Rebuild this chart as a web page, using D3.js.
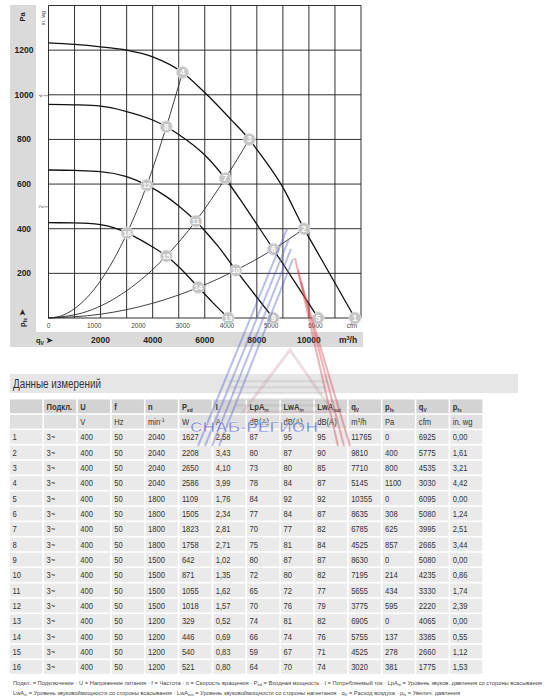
<!DOCTYPE html>
<html><head><meta charset="utf-8">
<script src="https://cdn.jsdelivr.net/npm/d3@7"></script>
<style>
body{margin:0;background:#fff}
svg{display:block}
text{font-family:"Liberation Sans",Arial,sans-serif}
</style>
</head><body>
<svg id="c" width="550" height="700"></svg>
<script>
// ---------- DATA ----------
const pointNo   = [1,2,3,4,5,6,7,8,9,10,11,12,13,14,15,16];
const connect   = ["3~","3~","3~","3~","3~","3~","3~","3~","3~","3~","3~","3~","3~","3~","3~","3~"];
const voltage   = [400,400,400,400,400,400,400,400,400,400,400,400,400,400,400,400];
const freq      = [50,50,50,50,50,50,50,50,50,50,50,50,50,50,50,50];
const speed     = [2040,2040,2040,2040,1800,1800,1800,1800,1500,1500,1500,1500,1200,1200,1200,1200];
const power     = [1627,2208,2650,2586,1109,1505,1823,1758,642,871,1055,1018,329,446,540,521];
const current   = ["2,58","3,43","4,10","3,99","1,76","2,34","2,81","2,71","1,02","1,35","1,62","1,57","0,52","0,69","0,83","0,80"];
const lpaIn     = [87,80,73,78,84,77,70,75,80,72,65,70,74,66,59,64];
const lwaIn     = [95,87,80,84,92,84,77,81,87,80,72,76,81,74,67,70];
const lwaOut    = [95,90,85,87,92,87,82,84,87,82,77,79,82,76,71,74];
const qvM3h     = [11765,9810,7710,5145,10355,8635,6785,4525,8630,7195,5655,3775,6905,5755,4525,3020];
const pfsPa     = [0,400,800,1100,0,308,625,857,0,214,434,595,0,137,278,381];
const qvCfm     = [6925,5775,4535,3030,6095,5080,3995,2665,5080,4235,3330,2220,4065,3385,2660,1775];
const pfsInwg   = ["0,00","1,61","3,21","4,42","0,00","1,24","2,51","3,44","0,00","0,86","1,74","2,39","0,00","0,55","1,12","1,53"];

// fan curves
const rpm2040Qv = [0,1000,2000,3000,4000,5145,6000,7000,7710,8000,9000,9810,10000,11000,11765];
const rpm2040Pa = [1233,1226,1215,1200,1170,1100,1010,890,800,755,585,400,361,157,0];
const rpm1800Qv = [0,1000,2000,3000,4000,4525,5000,6000,6785,7500,8000,8635,9000,9500,10355];
const rpm1800Pa = [957,955,949,925,887,857,822,730,625,507,420,308,243,154,0];
const rpm1500Qv = [0,1000,2000,3000,3775,4500,5000,5655,6000,6500,7195,7500,8000,8630];
const rpm1500Pa = [663,661,656,633,595,546,502,434,391,323,214,168,93,0];
const rpm1200Qv = [0,1000,2000,2500,3020,3500,4000,4525,5000,5755,6300,6905];
const rpm1200Pa = [427,426,418,405,381,352,318,278,230,137,70,0];

// system resistance curves
const sysAQv = [0,500,1000,2000,3020,3775,4525,5145];
const sysAPa = [0,10,42,167,381,595,857,1100];
const sysBQv = [0,1500,3000,4525,5655,6785,7710];
const sysBPa = [0,30,122,278,434,625,800];
const sysCQv = [0,2000,4000,5755,7195,8635,9810];
const sysCPa = [0,17,66,137,214,308,400];

// axis ticks
const qvGrid    = [0,1000,2000,3000,4000,5000,6000,7000,8000,9000,10000,11000,12000];
const paGrid    = [0,200,400,600,800,1000,1200,1400];
const paLabels  = [200,400,600,800,1000,1200];
const qvLabels  = [2000,4000,6000,8000,10000];
const cfmLabels = [0,1000,2000,3000,4000,5000,6000];
const inwgTicks = [2,4];
const M3H_PER_CFM = 1.699;
const PA_PER_INWG = 249;

// ---------- DRAW ----------
const svg = d3.select("#c");
const x = d3.scaleLinear().domain([0,12000]).range([48.5,361]);
const y = d3.scaleLinear().domain([0,1400]).range([318,5.5]);
const bandCol = "#dadada";

// grey bands
svg.append("rect").attr("x",10).attr("y",5).attr("width",26).attr("height",342).attr("fill",bandCol);
svg.append("rect").attr("x",10).attr("y",332).attr("width",353).attr("height",15).attr("fill",bandCol);

// grid
const g = svg.append("g");
g.selectAll("line.v").data(qvGrid).join("line")
  .attr("x1",d=>x(d)).attr("x2",d=>x(d)).attr("y1",y(0)).attr("y2",y(1400))
  .attr("stroke","#1a1a1a").attr("stroke-width",0.9);
g.selectAll("line.h").data(paGrid).join("line")
  .attr("y1",d=>y(d)).attr("y2",d=>y(d)).attr("x1",x(0)).attr("x2",x(12000))
  .attr("stroke","#1a1a1a").attr("stroke-width",0.9);

// Pa labels
svg.selectAll("text.pa").data(paLabels).join("text")
  .attr("x",24).attr("y",d=>y(d)+3).attr("text-anchor","middle")
  .attr("font-size",8.5).attr("font-weight","bold").attr("fill","#222").text(d=>d);
// Pa unit
svg.append("text").attr("transform","translate(25,17) rotate(-90)").attr("text-anchor","middle")
  .attr("font-size",7.5).attr("font-weight","bold").attr("fill","#222").text("Pa");
// in. wg
svg.append("text").attr("transform","translate(44.5,18) rotate(-90)").attr("text-anchor","middle")
  .attr("font-size",5.5).attr("fill","#555").text("in. wg");
inwgTicks.forEach(v=>{
  const yy = y(v*PA_PER_INWG);
  svg.append("line").attr("x1",43.5).attr("x2",48.5).attr("y1",yy).attr("y2",yy).attr("stroke","#555").attr("stroke-width",0.6);
  svg.append("text").attr("transform",`translate(43,${yy}) rotate(-90)`).attr("text-anchor","middle")
    .attr("font-size",5.5).attr("fill","#555").text(v);
});
// psf arrow label
const pl = svg.append("text").attr("transform","translate(25,318) rotate(-90)").attr("text-anchor","middle")
  .attr("font-size",7.5).attr("font-weight","bold").attr("fill","#222");
pl.append("tspan").text("p");
pl.append("tspan").attr("font-size",5).attr("dy",1.5).text("fs");
pl.append("tspan").attr("dy",-1.5).text(" ➤");

// cfm labels
svg.selectAll("text.cfm").data(cfmLabels).join("text")
  .attr("x",d=>x(d*M3H_PER_CFM)+(d===0?0:1.5)).attr("y",328).attr("text-anchor","middle")
  .attr("font-size",6.5).attr("fill","#444").text(d=>d);
svg.append("text").attr("x",352).attr("y",328).attr("text-anchor","middle")
  .attr("font-size",6.5).attr("fill","#444").text("cfm");

// qv m3/h labels
svg.selectAll("text.qv").data(qvLabels).join("text")
  .attr("x",d=>x(d)).attr("y",343).attr("text-anchor","middle")
  .attr("font-size",8.5).attr("font-weight","bold").attr("fill","#222").text(d=>d);
const mu = svg.append("text").attr("x",348).attr("y",343).attr("text-anchor","middle")
  .attr("font-size",8.5).attr("font-weight","bold").attr("fill","#222");
mu.append("tspan").text("m");
mu.append("tspan").attr("font-size",5.5).attr("dy",-3).text("3");
mu.append("tspan").attr("dy",3).text("/h");
const ql = svg.append("text").attr("x",36).attr("y",343)
  .attr("font-size",7.5).attr("font-weight","bold").attr("fill","#222");
ql.append("tspan").text("q");
ql.append("tspan").attr("font-size",5).attr("dy",1.5).text("V");
ql.append("tspan").attr("dy",-1.5).text(" ➤");

// curves
const line = d3.line().x(d=>x(d[0])).y(d=>y(d[1])).curve(d3.curveMonotoneX);
const zip = (a,b)=>a.map((v,i)=>[v,b[i]]);
[[sysAQv,sysAPa],[sysBQv,sysBPa],[sysCQv,sysCPa]].forEach(([q,p])=>{
  svg.append("path").attr("d",line(zip(q,p))).attr("fill","none").attr("stroke","#2a2a2a").attr("stroke-width",0.9);
});
[[rpm2040Qv,rpm2040Pa],[rpm1800Qv,rpm1800Pa],[rpm1500Qv,rpm1500Pa],[rpm1200Qv,rpm1200Pa]].forEach(([q,p])=>{
  svg.append("path").attr("d",line(zip(q,p))).attr("fill","none").attr("stroke","#111").attr("stroke-width",1.3);
});

// markers
const mk = svg.selectAll("g.mk").data(pointNo).join("g")
  .attr("transform",(d,i)=>`translate(${x(qvM3h[i])},${y(pfsPa[i])})`);
mk.append("circle").attr("r",6).attr("fill","#c5c5c5").attr("stroke","#dedede").attr("stroke-width",0.8);
mk.append("text").attr("y",3).attr("text-anchor","middle").attr("font-size",d=>d>9?7.5:8.5)
  .attr("font-weight","bold").attr("fill","#fff").text(d=>d);

// ---------- TABLE ----------
svg.append("rect").attr("x",10).attr("y",374).attr("width",508).attr("height",19).attr("fill","#e6e6e6");
svg.append("text").attr("x",13).attr("y",388).attr("font-size",12.5).attr("fill","#333")
  .attr("textLength",88).attr("lengthAdjust","spacingAndGlyphs").text("Данные измерений");

const colX = [10].concat(d3.range(13).map(i=>44+i*33.85));
const colW = colX.map((c,i)=>(i<13?colX[i+1]:484)-c-1.6);
const rowH = 15.33, row0 = 399.5;
const head1 = [["",""],["Подкл.",""],["U",""],["f",""],["n",""],["P","ed"],["I",""],["LpA","in"],["LwA","in"],["LwA","out"],["q","V"],["p","fs"],["q","V"],["p","fs"]];
const head2 = [["",""],["",""],["V",""],["Hz",""],["min","-1"],["W",""],["A",""],["dB(A)",""],["dB(A)",""],["dB(A)",""],["m","3","/h"],["Pa",""],["cfm",""],["in. wg",""]];
const cols = [pointNo,connect,voltage,freq,speed,power,current,lpaIn,lwaIn,lwaOut,qvM3h,pfsPa,qvCfm,pfsInwg];
const fills = ["#d3d3d3","#e0e0e0"];
const tg = svg.append("g");
function cellText(xx,yy,bold){
  return tg.append("text").attr("transform",`translate(${xx},${yy}) scale(0.8,1)`)
    .attr("font-size",9.5).attr("fill","#333").attr("font-weight",bold?"bold":"normal");
}
for(let r=0;r<18;r++){
  const ry = row0 + r*rowH;
  for(let c=0;c<14;c++){
    tg.append("rect").attr("x",colX[c]).attr("y",ry).attr("width",colW[c]).attr("height",rowH-1.6)
      .attr("fill", r<2?fills[r]:"#eaeaea");
    const tx = colX[c]+2.5, ty = ry+10.3;
    if(r===0){
      const [m,s] = head1[c];
      if(!m) continue;
      const t = cellText(tx,ty,true);
      t.append("tspan").text(m);
      if(s) t.append("tspan").attr("font-size",6).attr("dy",2).text(s);
    } else if(r===1){
      const h = head2[c];
      if(!h[0]) continue;
      const t = cellText(tx,ty,false);
      t.append("tspan").text(h[0]);
      if(h[1]) t.append("tspan").attr("font-size",6).attr("dy",-3.5).text(h[1]);
      if(h[2]) t.append("tspan").attr("dy",3.5).text(h[2]);
    } else {
      cellText(tx,ty,false).text(cols[c][r-2]);
    }
  }
}

// footer
const f1 = svg.append("text").attr("x",13).attr("y",684.5).attr("font-size",5.5).attr("fill","#444")
  .attr("textLength",529).attr("lengthAdjust","spacingAndGlyphs");
f1.append("tspan").text("Подкл. = Подключение · U = Напряжение питания · f = Частота · n = Скорость вращения · P");
f1.append("tspan").attr("font-size",3.8).attr("dy",1).text("ed");
f1.append("tspan").attr("dy",-1).text(" = Входная мощность · I = Потребляемый ток · LpA");
f1.append("tspan").attr("font-size",3.8).attr("dy",1).text("in");
f1.append("tspan").attr("dy",-1).text(" = Уровень звуков. давления со стороны всасывания");
const f2 = svg.append("text").attr("x",13).attr("y",695).attr("font-size",5.5).attr("fill","#444")
  .attr("textLength",447).attr("lengthAdjust","spacingAndGlyphs");
f2.append("tspan").text("LwA");
f2.append("tspan").attr("font-size",3.8).attr("dy",1).text("in");
f2.append("tspan").attr("dy",-1).text(" = Уровень звуковоймощности со стороны всасывания · LwA");
f2.append("tspan").attr("font-size",3.8).attr("dy",1).text("out");
f2.append("tspan").attr("dy",-1).text(" = Уровень звуковоймощности со стороны нагнетания · q");
f2.append("tspan").attr("font-size",3.8).attr("dy",1).text("V");
f2.append("tspan").attr("dy",-1).text(" = Расход воздуха · p");
f2.append("tspan").attr("font-size",3.8).attr("dy",1).text("fs");
f2.append("tspan").attr("dy",-1).text(" = Увелич. давления");

// ---------- WATERMARK (logo overlay) ----------
const wm = svg.append("g").attr("pointer-events","none");
[0,1,2,3].forEach(i=>{
  wm.append("line").attr("x1",287+i*2).attr("y1",229+i*10).attr("x2",198+i*7).attr("y2",446)
    .attr("stroke","#5a68c4").attr("stroke-width",2).attr("opacity",0.42);
});
[0,1,2].forEach(i=>{
  wm.append("line").attr("x1",295+i*3).attr("y1",258+i*12).attr("x2",338+i*6).attr("y2",446)
    .attr("stroke","#d9474f").attr("stroke-width",2).attr("opacity",0.42);
});
wm.append("path").attr("d","M243,412 L290,350 L333,412 Z").attr("fill","none")
  .attr("stroke","#c9a0a8").attr("stroke-width",3).attr("opacity",0.35);
[0,1,2,3,4].forEach(i=>{
  wm.append("rect").attr("x",228+i*2).attr("y",380+i*6).attr("width",100-i*4).attr("height",2.5)
    .attr("fill","#9a9a9a").attr("opacity",0.2);
});
wm.append("text").attr("x",190).attr("y",432).attr("font-size",15).attr("font-weight","bold")
  .attr("fill","#5466c8").attr("opacity",0.7).attr("stroke","#fff").attr("stroke-width",0.6)
  .attr("textLength",128).attr("lengthAdjust","spacingAndGlyphs").text("СНАБ-РЕГИОН");
</script>
</body></html>
